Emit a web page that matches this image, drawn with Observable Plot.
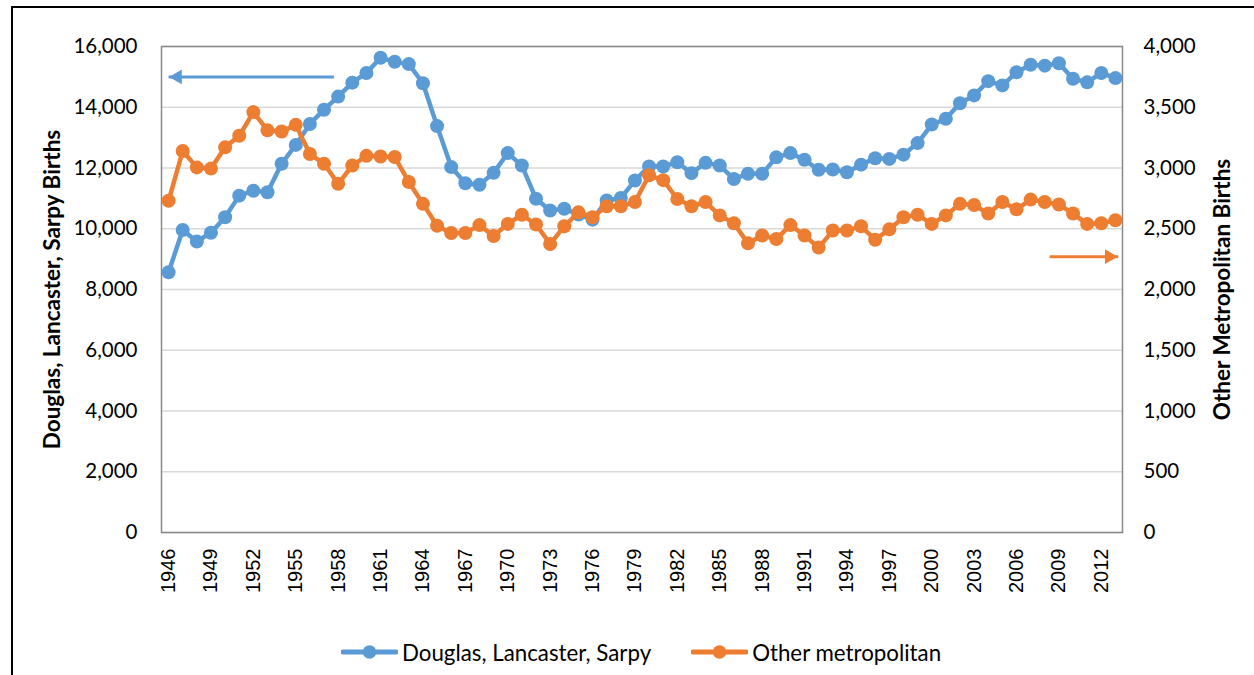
<!DOCTYPE html>
<html>
<head>
<meta charset="utf-8">
<script src="https://cdn.jsdelivr.net/npm/d3@7"></script>
<script src="https://cdn.jsdelivr.net/npm/@observablehq/plot@0.6"></script>
<style>
  html, body { margin: 0; padding: 0; background: #fff; }
  #wrap { position: relative; width: 1254px; height: 675px; overflow: hidden; background: #fff; }
  #border { position: absolute; left: 11px; top: 6px; width: 1300px; height: 700px;
            border-left: 2px solid #000; border-top: 2px solid #000; box-sizing: border-box; }
  #chart { position: absolute; left: 0; top: 0; }
  #legend { position: absolute; left: 341px; top: 638px; height: 28px; display: flex; align-items: center;
            font-family: Lato, "Open Sans", sans-serif; font-size: 22.3px; color: #000; white-space: nowrap; }
  .item { display: flex; align-items: center; margin-right: 40px; }
  .item svg { margin-right: 4px; }
</style>
</head>
<body>
<div id="wrap">
  <div id="border"></div>
  <div id="chart"></div>
  <div id="legend"></div>
</div>
<script>
// ---- data ----
const years = [1946,1947,1948,1949,1950,1951,1952,1953,1954,1955,
               1956,1957,1958,1959,1960,1961,1962,1963,1964,1965,
               1966,1967,1968,1969,1970,1971,1972,1973,1974,1975,
               1976,1977,1978,1979,1980,1981,1982,1983,1984,1985,
               1986,1987,1988,1989,1990,1991,1992,1993,1994,1995,
               1996,1997,1998,1999,2000,2001,2002,2003,2004,2005,
               2006,2007,2008,2009,2010,2011,2012,2013];
// Douglas, Lancaster, Sarpy births (left axis)
const douglas = [8570,9960,9580,9870,10380,11090,11250,11200,12140,12760,
                 13450,13920,14350,14810,15130,15630,15500,15420,14790,13380,
                 12030,11500,11450,11840,12490,12080,10990,10600,10660,10470,
                 10300,10930,11010,11590,12050,12050,12190,11830,12170,12080,
                 11640,11810,11810,12350,12490,12270,11940,11950,11860,12110,
                 12320,12300,12440,12820,13430,13620,14130,14390,14860,14720,
                 15150,15400,15370,15450,14940,14820,15130,14960];
// Other metropolitan births (right axis)
const other = [2730,3140,3005,2995,3170,3265,3460,3310,3300,3355,
               3115,3035,2870,3020,3100,3095,3090,2885,2705,2525,
               2465,2465,2530,2440,2540,2615,2535,2375,2520,2635,
               2595,2685,2685,2720,2940,2900,2745,2685,2720,2610,
               2545,2380,2445,2415,2530,2445,2345,2485,2485,2520,
               2410,2495,2595,2615,2540,2610,2705,2695,2625,2720,
               2660,2740,2720,2700,2625,2540,2545,2570];

const seriesNames = ["Douglas, Lancaster, Sarpy", "Other metropolitan"];
const seriesColors = ["#5B9BD5", "#ED7D31"];
const xTicks = [1946,1949,1952,1955,1958,1961,1964,1967,1970,1973,1976,1979,1982,1985,1988,1991,1994,1997,2000,2003,2006,2009,2012];
const leftTicks = [0,2000,4000,6000,8000,10000,12000,14000,16000];
const rightTicks = [0,500,1000,1500,2000,2500,3000,3500,4000];
const leftTitle = "Douglas, Lancaster, Sarpy Births";
const rightTitle = "Other Metropolitan Births";
// annotation arrows (start year, tip year, value on the series' own axis)
const arrowFrom = [1957.7, 2008.35];
const arrowTo = [1946, 2013.2];
const arrowValue = [15000, 2270]; // first on left axis, second on right axis

// ---- build ----
const ratio = d3.max(leftTicks) / d3.max(rightTicks);
const rows = years.map((year, i) => ({year, douglas: douglas[i], other: other[i] * ratio}));
const arrows = [
  {x1: arrowFrom[0], x2: arrowTo[0], y: arrowValue[0], color: seriesColors[0], rot: -90, off: 9},
  {x1: arrowFrom[1], x2: arrowTo[1], y: arrowValue[1] * ratio, color: seriesColors[1], rot: 90, off: -9}
];
const fmt = d3.format(",");
const tickFont = "Lato, 'Open Sans', sans-serif";

const chart = Plot.plot({
  width: 1254,
  height: 620,
  marginLeft: 161,
  marginRight: 132,
  marginTop: 46,
  marginBottom: 88,
  style: {background: "transparent", fontFamily: tickFont, color: "#000"},
  x: {domain: [years[0] - 0.5, years[years.length - 1] + 0.5]},
  y: {domain: [0, d3.max(leftTicks)]},
  marks: [
    Plot.gridY(leftTicks, {stroke: "#d9d9d9", strokeOpacity: 1, strokeWidth: 1.4}),
    Plot.frame({stroke: "#898989", strokeWidth: 1.5}),
    Plot.axisX({ticks: xTicks, tickFormat: d => String(d), tickRotate: -90, tickSize: 0, tickPadding: 16,
                fontSize: 20, fontFamily: "'Liberation Sans', Arial, sans-serif", label: null, fill: "#000"}),
    Plot.axisY({ticks: leftTicks, tickFormat: fmt, tickSize: 0, tickPadding: 24, fontSize: 20.5, label: null, fill: "#000"}),
    Plot.axisY({anchor: "right", ticks: rightTicks.map(v => v * ratio), tickFormat: d => fmt(d / ratio),
                tickSize: 0, tickPadding: 21, fontSize: 20.5, label: null, fill: "#000"}),
    Plot.text([leftTitle], {text: d => d, frameAnchor: "left", textAnchor: "middle", dx: -109, rotate: -90,
                            fontWeight: "bold", fontSize: 22.5, fill: "#000"}),
    Plot.text([rightTitle], {text: d => d, frameAnchor: "right", textAnchor: "middle", dx: 100, rotate: -90,
                             fontWeight: "bold", fontSize: 22.5, fill: "#000"}),
    Plot.lineY(rows, {x: "year", y: "douglas", stroke: seriesColors[0], strokeWidth: 4.5, strokeLinejoin: "round"}),
    Plot.dot(rows, {x: "year", y: "douglas", r: 7, fill: seriesColors[0]}),
    Plot.lineY(rows, {x: "year", y: "other", stroke: seriesColors[1], strokeWidth: 4.5, strokeLinejoin: "round"}),
    Plot.dot(rows, {x: "year", y: "other", r: 7, fill: seriesColors[1]}),
    Plot.link(arrows, {x1: "x1", x2: "x2", y1: "y", y2: "y", stroke: "color", strokeWidth: 3}),
    Plot.dot([arrows[0]], {x: "x2", y: "y", symbol: "triangle", r: 5.5, fill: "color", stroke: "none", rotate: arrows[0].rot, dx: arrows[0].off}),
    Plot.dot([arrows[1]], {x: "x2", y: "y", symbol: "triangle", r: 5.5, fill: "color", stroke: "none", rotate: arrows[1].rot, dx: arrows[1].off})
  ]
});
document.getElementById("chart").appendChild(chart);

// legend
const legend = d3.select("#legend");
seriesNames.forEach((name, i) => {
  const item = legend.append("div").attr("class", "item");
  const svg = item.append("svg").attr("width", 57).attr("height", 18);
  svg.append("line").attr("x1", 2).attr("x2", 55).attr("y1", 9).attr("y2", 9)
     .attr("stroke", seriesColors[i]).attr("stroke-width", 5).attr("stroke-linecap", "round");
  svg.append("circle").attr("cx", 28.5).attr("cy", 9).attr("r", 6.8).attr("fill", seriesColors[i]);
  item.append("span").text(name);
});
</script>
</body>
</html>
